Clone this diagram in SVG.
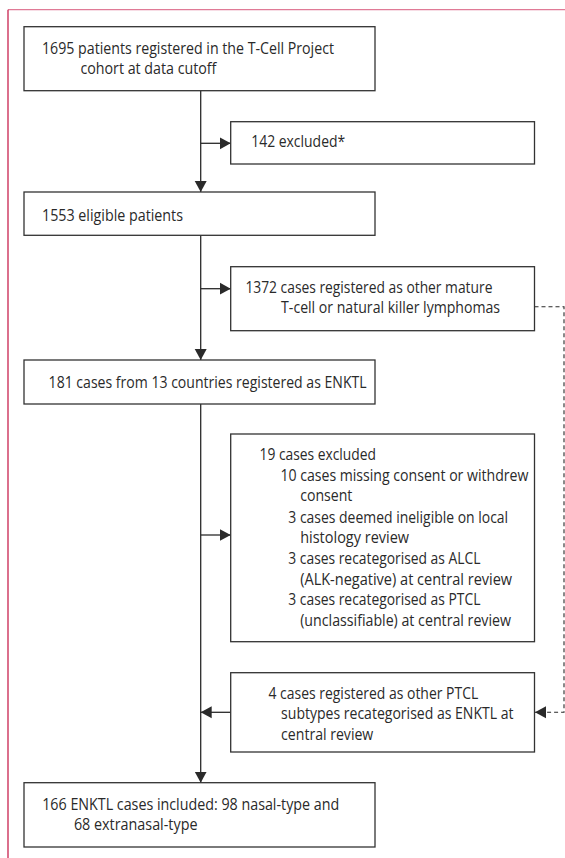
<svg xmlns="http://www.w3.org/2000/svg" width="565" height="858" viewBox="0 0 565 858">
<style>
  .box { fill: #ffffff; stroke: #333333; stroke-width: 1.3; }
  .t { font-family: "Open Sans", "Liberation Sans", Arial, sans-serif; font-size: 16px; fill: #2a2a2a; }
  .conn { fill: none; stroke: #2a2a2a; stroke-width: 1.3; }
  .dash { fill: none; stroke: #2a2a2a; stroke-width: 1.1; stroke-dasharray: 4 3; }
</style>
<defs>
  <marker id="ah" markerUnits="userSpaceOnUse" markerWidth="12" markerHeight="13" refX="11" refY="6.5" orient="auto">
    <path d="M0,0.5 L11,6.5 L0,12.5 Z" fill="#2a2a2a"/>
  </marker>
</defs>
<rect x="0" y="0" width="565" height="858" fill="#ffffff"/>
<g id="frame">
  <line x1="8" y1="9.7" x2="565" y2="9.7" stroke="#e07a96" stroke-width="1.2"/>
  <line x1="8" y1="9.7" x2="8" y2="858" stroke="#c8234f" stroke-width="1.3"/>
</g>
<g id="connectors">
  <line class="conn" x1="200.7" y1="90.7" x2="200.7" y2="192" marker-end="url(#ah)"/>
  <line class="conn" x1="200.7" y1="143.3" x2="230.7" y2="143.3" marker-end="url(#ah)"/>
  <line class="conn" x1="200.7" y1="235.3" x2="200.7" y2="360" marker-end="url(#ah)"/>
  <line class="conn" x1="200.7" y1="288.7" x2="230.7" y2="288.7" marker-end="url(#ah)"/>
  <line class="conn" x1="200.7" y1="404" x2="200.7" y2="782.7" marker-end="url(#ah)"/>
  <line class="conn" x1="200.7" y1="535" x2="230.7" y2="535" marker-end="url(#ah)"/>
  <line class="conn" x1="230.7" y1="712.3" x2="200.7" y2="712.3" marker-end="url(#ah)"/>
  <path class="dash" d="M534.5,306.7 H564 V712.3 H535" marker-end="url(#ah)"/>
</g>
<g id="n1">
  <rect class="box" x="24" y="26.7" width="351" height="64"/>
  <text class="t" x="42" y="54.3" textLength="292" lengthAdjust="spacingAndGlyphs">1695 patients registered in the T-Cell Project</text>
  <text class="t" x="80.4" y="74.3" textLength="136" lengthAdjust="spacingAndGlyphs">cohort at data cutoff</text>
</g>
<g id="n2">
  <rect class="box" x="230.7" y="121.7" width="303.8" height="42.3"/>
  <text class="t" x="251.2" y="146.7" textLength="94" lengthAdjust="spacingAndGlyphs">142 excluded*</text>
</g>
<g id="n3">
  <rect class="box" x="24" y="192" width="351" height="43.3"/>
  <text class="t" x="42" y="221" textLength="141" lengthAdjust="spacingAndGlyphs">1553 eligible patients</text>
</g>
<g id="n4">
  <rect class="box" x="230.7" y="266.7" width="303.8" height="64"/>
  <text class="t" x="245.4" y="292.7" textLength="247" lengthAdjust="spacingAndGlyphs">1372 cases registered as other mature</text>
  <text class="t" x="281.1" y="313.3" textLength="219" lengthAdjust="spacingAndGlyphs">T-cell or natural killer lymphomas</text>
</g>
<g id="n5">
  <rect class="box" x="24" y="360" width="351" height="44"/>
  <text class="t" x="48.6" y="388.3" textLength="318" lengthAdjust="spacingAndGlyphs">181 cases from 13 countries registered as ENKTL</text>
</g>
<g id="n6">
  <rect class="box" x="230.7" y="434" width="303.8" height="207.7"/>
  <text class="t" x="259.5" y="460" textLength="116.4" lengthAdjust="spacingAndGlyphs">19 cases excluded</text>
  <text class="t" x="280.4" y="481" textLength="248" lengthAdjust="spacingAndGlyphs">10 cases missing consent or withdrew</text>
  <text class="t" x="300.2" y="501.3" textLength="52.2" lengthAdjust="spacingAndGlyphs">consent</text>
  <text class="t" x="288.3" y="522.7" textLength="219.8" lengthAdjust="spacingAndGlyphs">3 cases deemed ineligible on local</text>
  <text class="t" x="300.2" y="543.3" textLength="108.8" lengthAdjust="spacingAndGlyphs">histology review</text>
  <text class="t" x="288.3" y="564.3" textLength="192.1" lengthAdjust="spacingAndGlyphs">3 cases recategorised as ALCL</text>
  <text class="t" x="300.2" y="585" textLength="211.9" lengthAdjust="spacingAndGlyphs">(ALK-negative) at central review</text>
  <text class="t" x="288.3" y="605" textLength="192.1" lengthAdjust="spacingAndGlyphs">3 cases recategorised as PTCL</text>
  <text class="t" x="300.2" y="625.7" textLength="210.8" lengthAdjust="spacingAndGlyphs">(unclassifiable) at central review</text>
</g>
<g id="n7">
  <rect class="box" x="230.7" y="672.7" width="303.8" height="79.3"/>
  <text class="t" x="268.5" y="699.3" textLength="209.7" lengthAdjust="spacingAndGlyphs">4 cases registered as other PTCL</text>
  <text class="t" x="281.1" y="719.3" textLength="232.4" lengthAdjust="spacingAndGlyphs">subtypes recategorised as ENKTL at</text>
  <text class="t" x="281.1" y="739.7" textLength="92.2" lengthAdjust="spacingAndGlyphs">central review</text>
</g>
<g id="n8">
  <rect class="box" x="24" y="782.7" width="351" height="64.3"/>
  <text class="t" x="42.2" y="810" textLength="297" lengthAdjust="spacingAndGlyphs">166 ENKTL cases included: 98 nasal-type and</text>
  <text class="t" x="73.9" y="830" textLength="123.6" lengthAdjust="spacingAndGlyphs">68 extranasal-type</text>
</g>
</svg>
